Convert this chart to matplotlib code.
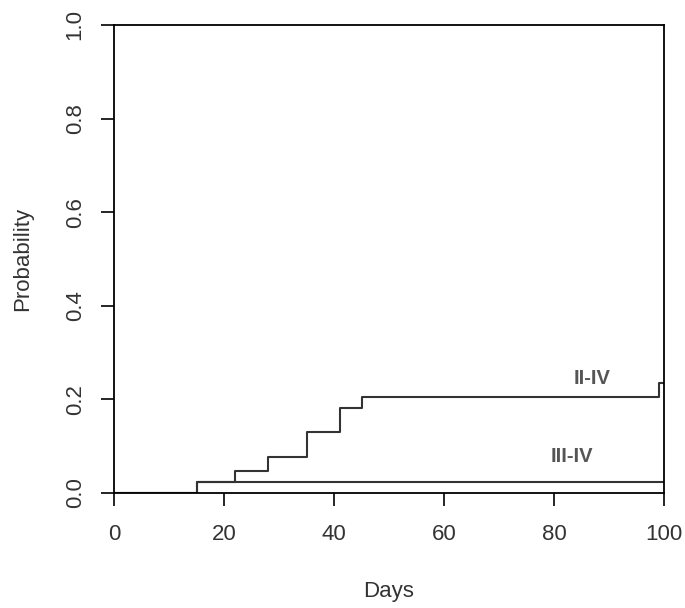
import matplotlib

matplotlib.use("Agg")
import matplotlib.pyplot as plt

# cumulative incidence
days_ii_iv = [0, 15, 22, 28, 35, 41, 45, 99, 100]
prob_ii_iv = [0, 0.024, 0.048, 0.076, 0.130, 0.181, 0.206, 0.234, 0.234]
days_iii_iv = [0, 15, 100]
prob_iii_iv = [0, 0.024, 0.024]

x_ticks = [0, 20, 40, 60, 80, 100]
y_ticks = [0.0, 0.2, 0.4, 0.6, 0.8, 1.0]

plt.rcParams["font.family"] = ["Liberation Sans", "DejaVu Sans"]

fig = plt.figure(figsize=(6.85, 6.08), dpi=100)
ax = fig.add_axes([114 / 685, 115 / 608, 550 / 685, 468 / 608])

line_col = "#333333"
ax.step(days_ii_iv, prob_ii_iv, where="post", color=line_col, lw=1.5)
ax.step(days_iii_iv, prob_iii_iv, where="post", color=line_col, lw=1.5)

ax.text(86.9, 0.245, "II-IV", ha="center", va="center", fontsize=14.5,
        color="#555555", fontweight="bold")
ax.text(83.3, 0.078, "III-IV", ha="center", va="center", fontsize=14.5,
        color="#555555", fontweight="bold")

ax.set_xlim(0, 100)
ax.set_ylim(0, 1)
ax.set_xticks(x_ticks)
ax.set_yticks(y_ticks)
ax.set_yticklabels([f"{v:.1f}" for v in y_ticks], rotation=90, va="center")

ax.tick_params(direction="out", length=9.4, width=1.2, colors="black",
               labelsize=16, labelcolor="#333333")
ax.tick_params(axis="x", pad=13)
ax.tick_params(axis="y", pad=11)
for sp in ax.spines.values():
    sp.set_linewidth(1.3)

ax.set_xlabel("Days", fontsize=16, color="#333333", va="center")
ax.xaxis.set_label_coords(0.5, -0.2115)
ax.set_ylabel("Probability", fontsize=16, color="#333333", va="center", ha="center")
ax.yaxis.set_label_coords(-0.167, 0.5)

fig.savefig("out.png", dpi=100)
